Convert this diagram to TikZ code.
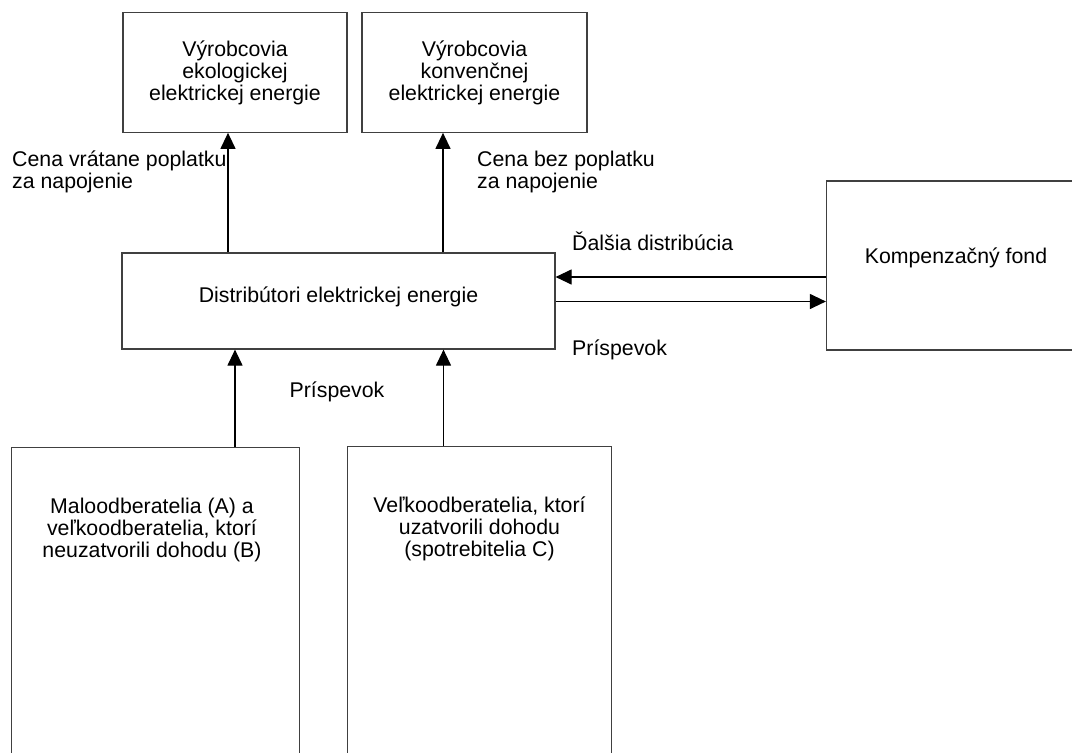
\documentclass[tikz,border=0pt]{standalone}
\usepackage{fontspec}
\setmainfont{Liberation Sans}
\usetikzlibrary{arrows.meta}
\usetikzlibrary{positioning}

\tikzset{
    blok/.style={draw=black!75, line width=1.2pt, inner sep=0pt, align=center},
    sipka/.style={-{Triangle[length=16pt,width=15pt]}, line width=1.2pt},
    popis/.style={inner sep=0pt, align=left}
}

\begin{document}
\begin{tikzpicture}[x=1pt, y=-1pt, every node/.style={font=\fontsize{21.3}{22}\selectfont}]

        \clip (0,0) rectangle (1072,753);

        % vyrobcovia
        \node[blok, minimum width=224, minimum height=119.5] (eko) at (235,72.5)
            {Výrobcovia\\ekologickej\\elektrickej energie};
        \node[blok, minimum width=225, minimum height=119.5] (konv) at (474.5,72.5)
            {Výrobcovia\\konvenčnej\\elektrickej energie};

        % distributori a fond
        \node[blok, minimum width=433, minimum height=96] (dist) at (338.5,301) {};
        \node[blok, minimum width=259, minimum height=169] (fond) at (956,265.5) {};
        \node (disttxt) at (338.5,297) {Distribútori elektrickej energie};
        \node (fondtxt) at (956,258) {Kompenzačný fond};

        % odberatelia
        \node[blok, minimum width=288, minimum height=320, anchor=north west] (malo) at (11,447) {};
        \node[blok, minimum width=264, minimum height=320, anchor=north west] (velko) at (347,446) {};
        \node[align=center] (malotxt) at (152,530)
            {Maloodberatelia (A) a\\veľkoodberatelia, ktorí\\neuzatvorili dohodu (B)};
        \node[align=center] (velkotxt) at (479.5,529)
            {Veľkoodberatelia, ktorí\\uzatvorili dohodu\\(spotrebitelia C)};

        \coordinate (d1) at (228,0);
        \coordinate (d2) at (443,0);
        \coordinate (o1) at (235,0);
        \coordinate (o2) at (443.5,0);
        \coordinate (h1) at (0,277);
        \coordinate (h2) at (0,301.5);

        \draw[sipka] (dist.north -| d1) -- (eko.south -| d1);
        \draw[sipka] (dist.north -| d2) -- (konv.south -| d2);

        \draw[sipka] (malo.north -| o1) -- (dist.south -| o1);
        \draw[sipka] (velko.north -| o2) -- (dist.south -| o2);

        \draw[sipka] (fond.west |- h1) -- (dist.east |- h1);
        \draw[sipka] (dist.east |- h2) -- (fond.west |- h2);

        % popisky
        \node[popis, anchor=west] (cena1) at (12,172) {Cena vrátane poplatku\\za napojenie};
        \node[popis, anchor=west] (cena2) at (477,172) {Cena bez poplatku\\za napojenie};
        \node[popis, anchor=west] (dalsia) at (572,241) {Ďalšia distribúcia};
        \node[popis, anchor=west] (prisp1) at (572,350) {Príspevok};
        \node[popis] (prisp2) at (337,392) {Príspevok};

\end{tikzpicture}
\end{document}
